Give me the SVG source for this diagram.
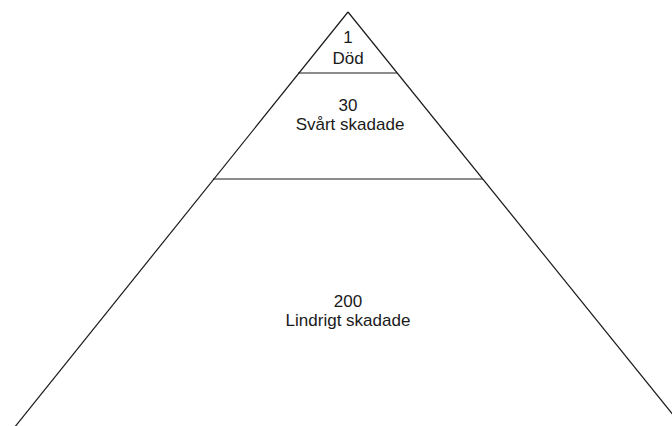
<svg xmlns="http://www.w3.org/2000/svg" width="672" height="426" viewBox="0 0 672 426">
  <style>
    .edge { stroke: #1a1a1a; stroke-width: 1.2; fill: none; }
    .label { font-family: "Liberation Sans", Arial, sans-serif; font-size: 17px; fill: #1a1a1a; text-anchor: middle; }
  </style>
  <rect width="672" height="426" fill="#ffffff"/>
  <!-- pyramid outline -->
  <g id="connectors">
    <line class="edge" x1="348" y1="12" x2="14" y2="428"/>
    <line class="edge" x1="348" y1="12" x2="674" y2="416"/>
    <line class="edge" x1="298" y1="73" x2="397" y2="73"/>
    <line class="edge" x1="213" y1="179" x2="483" y2="179"/>
  </g>
  <g id="tier-top">
    <text class="label" x="348" y="43">1<tspan x="348" y="64">Död</tspan></text>
  </g>
  <g id="tier-middle">
    <text class="label" x="348" y="111">30<tspan x="350" y="130">Svårt skadade</tspan></text>
  </g>
  <g id="tier-bottom">
    <text class="label" x="348" y="306.5">200<tspan x="348" y="325.5">Lindrigt skadade</tspan></text>
  </g>
</svg>
